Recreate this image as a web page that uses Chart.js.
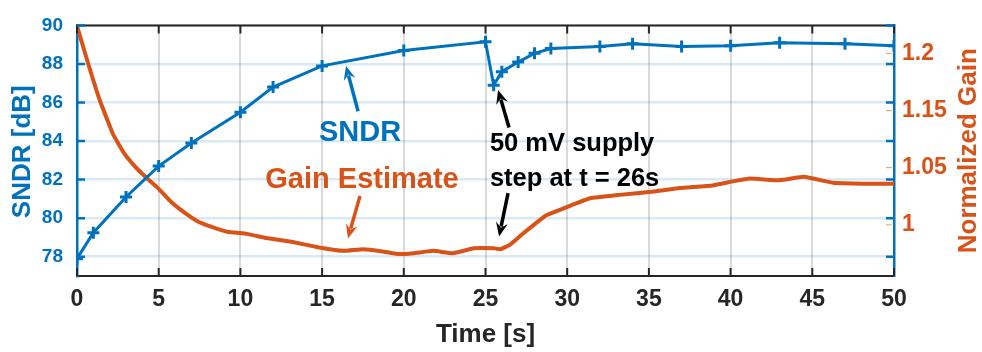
<!DOCTYPE html>
<html>
<head>
<meta charset="utf-8">
<script src="https://cdn.jsdelivr.net/npm/chart.js@4.4.0/dist/chart.umd.min.js"></script>
<style>
  html, body { margin: 0; padding: 0; background: #fff; }
  #wrap { width: 982px; height: 352px; }
</style>
</head>
<body>
<div id="wrap"><canvas id="sndrChart" width="982" height="352"></canvas></div>
<script>
// SNDR measurements (markers)
const sndrTime = [0, 1, 3, 5, 7, 10, 12, 15, 20, 25, 25.5, 26, 27, 28, 29, 32, 34, 37, 40, 43, 47, 50];
const sndrValues = [77.9, 79.25, 81.1, 82.7, 83.9, 85.5, 86.8, 87.9, 88.7, 89.15, 86.9, 87.6, 88.1, 88.55, 88.8, 88.9, 89.05, 88.9, 88.95, 89.1, 89.05, 88.95];

// gain estimate trace
const gainTime = [0, 0.7, 1.4, 2.2, 2.9, 3.6, 4.3, 5.0, 5.8, 6.6, 7.4, 8.2, 9.2, 10.4, 11.6, 13.2, 14.9, 16.3, 17.5, 18.7,
  19.6, 20.6, 21.8, 23.0, 24.3, 25.5, 25.9, 26.5, 27.3, 28.7, 30.0, 31.4, 33.2, 35.3, 36.9, 38.9, 40.2, 41.2, 43.0, 44.5,
  46.3, 48.1, 50];
const gainValues = [1.232, 1.187, 1.145, 1.106, 1.083, 1.067, 1.054, 1.042, 1.026, 1.014, 1.004, 0.998, 0.992, 0.9895, 0.9846, 0.980, 0.9734, 0.9697, 0.9716, 0.969,
  0.966, 0.967, 0.9697, 0.967, 0.9727, 0.9727, 0.9716, 0.977, 0.990, 1.011, 1.021, 1.031, 1.035, 1.039, 1.043, 1.046, 1.051, 1.054, 1.052, 1.056,
  1.049, 1.048, 1.048];

const timeTicks = [0, 5, 10, 15, 20, 25, 30, 35, 40, 45, 50];
const sndrTicks = [78, 80, 82, 84, 86, 88, 90];
const gainTickValues = [1, 1.0667, 1.1333, 1.2];
const gainTickLabels = ["1", "1.05", "1.15", "1.2"];

const BLUE = "#0072BD";
const ORANGE = "#D95319";
const DARK = "#262626";
const FONT = "'Liberation Sans', Arial, Helvetica, sans-serif";

const toXY = (xs, ys) => xs.map((x, i) => ({ x: x, y: ys[i] }));

function drawArrow(ctx, x0, y0, x1, y1, color) {
  const ang = Math.atan2(y1 - y0, x1 - x0);
  const head = 14, half = 6;
  const bx = x1 - head * Math.cos(ang), by = y1 - head * Math.sin(ang);
  ctx.strokeStyle = color;
  ctx.fillStyle = color;
  ctx.lineWidth = 3.5;
  ctx.beginPath();
  ctx.moveTo(x0, y0);
  ctx.lineTo(bx + 4 * Math.cos(ang), by + 4 * Math.sin(ang));
  ctx.stroke();
  ctx.beginPath();
  ctx.moveTo(x1, y1);
  ctx.lineTo(bx + half * Math.sin(ang), by - half * Math.cos(ang));
  ctx.lineTo(bx + 5 * Math.cos(ang), by + 5 * Math.sin(ang));
  ctx.lineTo(bx - half * Math.sin(ang), by + half * Math.cos(ang));
  ctx.closePath();
  ctx.fill();
}

const frameDecor = {
  id: "frameDecor",
  afterDraw(chart) {
    const { ctx, chartArea: a, scales } = chart;
    const x = scales.x, y = scales.y, y2 = scales.y2;
    ctx.save();
    // top box edge
    ctx.strokeStyle = DARK;
    ctx.lineWidth = 2;
    ctx.beginPath();
    ctx.moveTo(a.left, a.top);
    ctx.lineTo(a.right, a.top);
    ctx.stroke();
    // time ticks, inside, top and bottom
    timeTicks.forEach(v => {
      const px = x.getPixelForValue(v);
      ctx.beginPath();
      ctx.moveTo(px, a.bottom); ctx.lineTo(px, a.bottom - 8);
      ctx.moveTo(px, a.top); ctx.lineTo(px, a.top + 8);
      ctx.stroke();
    });
    // sndr ticks on both sides
    ctx.strokeStyle = BLUE;
    ctx.lineWidth = 2.5;
    sndrTicks.forEach(v => {
      const py = y.getPixelForValue(v);
      ctx.beginPath();
      ctx.moveTo(a.left, py); ctx.lineTo(a.left + 8, py);
      ctx.moveTo(a.right, py); ctx.lineTo(a.right - 8, py);
      ctx.stroke();
    });
    // gain ticks
    ctx.strokeStyle = "rgba(217,83,25,0.6)";
    ctx.lineWidth = 1;
    gainTickValues.forEach(v => {
      const py = y2.getPixelForValue(v);
      ctx.beginPath();
      ctx.moveTo(a.right - 8, py); ctx.lineTo(a.right - 2, py);
      ctx.stroke();
    });

    // axis titles
    ctx.font = "bold 26px " + FONT;
    ctx.textAlign = "center";
    ctx.textBaseline = "middle";
    ctx.fillStyle = BLUE;
    ctx.save();
    ctx.translate(23, (a.top + a.bottom) / 2 + 1);
    ctx.rotate(-Math.PI / 2);
    ctx.fillText("SNDR [dB]", 0, 0);
    ctx.restore();
    ctx.fillStyle = ORANGE;
    ctx.save();
    ctx.translate(969, (a.top + a.bottom) / 2);
    ctx.rotate(-Math.PI / 2);
    ctx.fillText("Normalized Gain", 0, 0);
    ctx.restore();
    ctx.fillStyle = DARK;
    ctx.textBaseline = "alphabetic";
    ctx.fillText("Time [s]", (a.left + a.right) / 2, 342);

    // annotations
    const X = v => x.getPixelForValue(v);
    const Y = v => y.getPixelForValue(v);
    ctx.textBaseline = "middle";
    ctx.font = "bold 29px " + FONT;
    ctx.fillStyle = BLUE;
    ctx.fillText("SNDR", X(17.32), Y(84.4));
    ctx.fillStyle = ORANGE;
    ctx.fillText("Gain Estimate", X(17.44), Y(82.0));
    ctx.font = "bold 25.5px " + FONT;
    ctx.fillStyle = "#000";
    ctx.textAlign = "left";
    ctx.fillText("50 mV supply", X(25.27), Y(83.85));
    ctx.fillText("step at t = 26s", X(25.27), Y(82.05));

    drawArrow(ctx, X(17.2), Y(85.55), X(16.46), Y(87.9), BLUE);
    drawArrow(ctx, X(17.32), Y(81.15), X(16.58), Y(78.95), ORANGE);
    drawArrow(ctx, X(26.44), Y(84.7), X(25.77), Y(86.65), "#000");
    drawArrow(ctx, X(26.38), Y(81.3), X(25.83), Y(79.05), "#000");
    ctx.restore();
  }
};

new Chart(document.getElementById("sndrChart"), {
  type: "line",
  data: {
    datasets: [
      {
        label: "SNDR",
        data: toXY(sndrTime, sndrValues),
        yAxisID: "y",
        borderColor: BLUE,
        backgroundColor: BLUE,
        borderWidth: 3,
        pointStyle: "cross",
        pointRadius: 6,
        pointBorderWidth: 3,
        tension: 0,
      },
      {
        label: "Gain Estimate",
        data: toXY(gainTime, gainValues),
        yAxisID: "y2",
        borderColor: ORANGE,
        borderWidth: 4,
        pointRadius: 0,
        tension: 0.1,
      },
    ],
  },
  options: {
    responsive: false,
    animation: false,
    layout: { padding: { top: 16, left: 0, right: 0, bottom: 0 } },
    plugins: {
      legend: { display: false },
      tooltip: { enabled: false },
    },
    scales: {
      x: {
        type: "linear",
        min: 0,
        max: 50,
        afterBuildTicks: s => { s.ticks = timeTicks.map(v => ({ value: v })); },
        afterFit: s => { s.height = 76; },
        grid: { color: "rgba(38,38,38,0.17)", lineWidth: 2, drawTicks: false },
        border: { color: DARK, width: 2 },
        ticks: { color: DARK, font: { family: FONT, size: 23, weight: "bold" }, padding: 10, maxRotation: 0 },
      },
      y: {
        position: "left",
        min: 77,
        max: 90,
        afterBuildTicks: s => { s.ticks = sndrTicks.map(v => ({ value: v })); },
        afterFit: s => { s.width = 77; },
        grid: { color: "rgba(0,114,189,0.15)", lineWidth: 2.5, drawTicks: false },
        border: { color: BLUE, width: 2.5 },
        ticks: { color: BLUE, font: { family: FONT, size: 19, weight: "bold" }, padding: 14 },
      },
      y2: {
        position: "right",
        min: 0.9404,
        max: 1.2326,
        afterBuildTicks: s => { s.ticks = gainTickValues.map(v => ({ value: v })); },
        afterFit: s => { s.width = 88; },
        grid: { drawOnChartArea: false, drawTicks: false },
        border: { color: BLUE, width: 2.5 },
        ticks: {
          color: ORANGE,
          font: { family: FONT, size: 23, weight: "bold" },
          padding: 8,
          callback: (v, i) => gainTickLabels[i],
        },
      },
    },
  },
  plugins: [frameDecor],
});
</script>
</body>
</html>
